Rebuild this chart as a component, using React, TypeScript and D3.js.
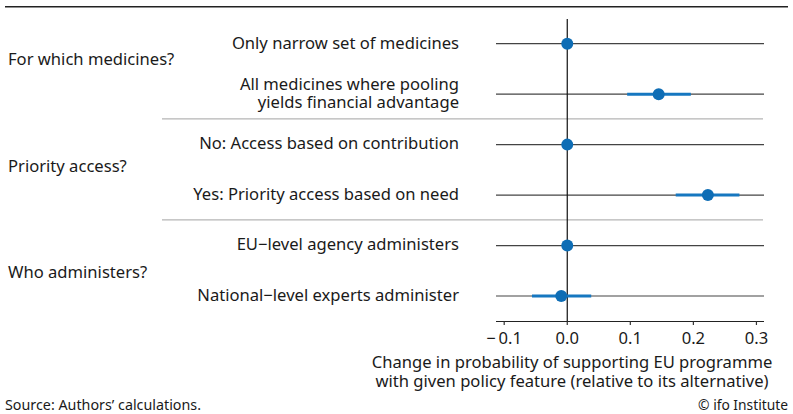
import React from "react";
import * as d3 from "d3";

const rowLabels: string[][] = [
  ["Only narrow set of medicines"],
  ["All medicines where pooling", "yields financial advantage"],
  ["No: Access based on contribution"],
  ["Yes: Priority access based on need"],
  ["EU\u2212level agency administers"],
  ["National\u2212level experts administer"],
];
const estimates: number[] = [0, 0.145, 0, 0.223, 0, -0.0095];
const ciLow: number[] = [0, 0.095, 0, 0.172, 0, -0.056];
const ciHigh: number[] = [0, 0.196, 0, 0.273, 0, 0.038];
const groupLabels: string[] = ["For which medicines?", "Priority access?", "Who administers?"];
const separatorsAfter: number[] = [1, 3];
const tickValues: number[] = [-0.1, 0, 0.1, 0.2, 0.3];
const axisTitle: string[] = [
  "Change in probability of supporting EU programme",
  "with given policy feature (relative to its alternative)",
];
const sourceText = "Source: Authors\u2019 calculations.";
const creditText = "\u00a9 ifo Institute";

const W = 793;
const H = 414;
const FONT = "'Noto Sans', sans-serif";
const BLUE = "#0e6db5";
const FS = 16.6;

export default function App() {
  const x = d3.scaleLinear().domain([-0.113, 0.312]).range([496, 764]);
  const idx = rowLabels.map((_, i) => i);
  const y = d3.scalePoint<number>().domain(idx).range([43.7, 296]);
  const gy = d3.scalePoint<number>().domain(groupLabels.map((_, i) => i)).range([65, 278.3]);
  const fmt = (v: number) => (v < 0 ? "\u2212\u2009" + d3.format(".1f")(-v) : d3.format(".1f")(v));
  const axisY = 321.5;
  const lineH = 17.3;

  return (
    <svg width={W} height={H} style={{ position: "absolute", left: 0, top: 0 }} fontFamily={FONT}>
      <rect width={W} height={H} fill="#fff" />
      <line x1={5} x2={788} y1={6.7} y2={6.7} stroke="#222" strokeWidth={1.6} />
      {separatorsAfter.map((s) => {
        const yy = (y(s)! + y(s + 1)!) / 2 - 0.5;
        return <line key={s} x1={162} x2={763} y1={yy} y2={yy} stroke="#b5b5b5" strokeWidth={1.2} />;
      })}
      {idx.map((i) => (
        <line key={i} x1={x.range()[0]} x2={x.range()[1]} y1={y(i)} y2={y(i)} stroke="#444" strokeWidth={1.2} />
      ))}
      <line x1={x(0)} x2={x(0)} y1={19} y2={axisY} stroke="#111" strokeWidth={1.2} />
      {idx.map((i) => (
        <g key={i}>
          <line x1={x(ciLow[i])} x2={x(ciHigh[i])} y1={y(i)} y2={y(i)} stroke="#1677c0" strokeWidth={3} />
          <circle cx={x(estimates[i])} cy={y(i)} r={6} fill={BLUE} />
        </g>
      ))}
      {rowLabels.map((lines, i) => (
        <text key={i} textAnchor="end" fontSize={FS} fill="#1a1a1a">
          {lines.map((l, j) => (
            <tspan key={j} x={459} y={y(i)! + 4.8 + (j - (lines.length - 1) / 2) * lineH}>
              {l}
            </tspan>
          ))}
        </text>
      ))}
      {groupLabels.map((g, i) => (
        <text key={g} x={8} y={gy(i)} fontSize={FS} fill="#1a1a1a">
          {g}
        </text>
      ))}
      <line x1={x.range()[0]} x2={x.range()[1]} y1={axisY} y2={axisY} stroke="#222" strokeWidth={1.2} />
      {tickValues.map((t) => (
        <g key={t}>
          <line x1={x(t)} x2={x(t)} y1={axisY} y2={axisY + 3.5} stroke="#333" strokeWidth={1.2} />
          <text x={x(t)} y={344} textAnchor="middle" fontSize={FS} fill="#1a1a1a">
            {fmt(t)}
          </text>
        </g>
      ))}
      {axisTitle.map((l, j) => (
        <text key={j} x={572} y={368 + j * 19} textAnchor="middle" fontSize={FS} fill="#1a1a1a">
          {l}
        </text>
      ))}
      <text x={5} y={410} fontSize={14.3} fill="#1a1a1a">
        {sourceText}
      </text>
      <text x={788} y={410} textAnchor="end" fontSize={13.8} fill="#1a1a1a">
        {creditText}
      </text>
    </svg>
  );
}
